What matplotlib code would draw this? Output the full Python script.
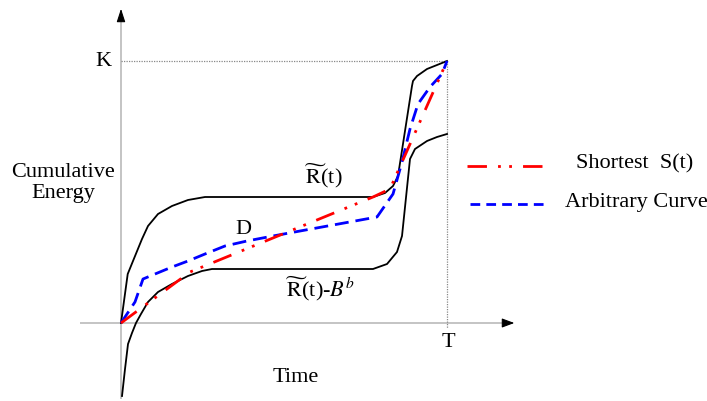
import matplotlib
matplotlib.use("Agg")
import matplotlib.pyplot as plt
from matplotlib.lines import Line2D

plt.rcParams['font.family'] = ['Liberation Serif', 'DejaVu Serif']
plt.rcParams['mathtext.fontset'] = 'stix'

# Time as a fraction of T, energy as a fraction of K
upper_t = [0.0, 0.0206, 0.0368, 0.0644, 0.0828, 0.1135, 0.1564, 0.2055, 0.2577, 0.773, 0.8098, 0.8344,
           0.8497, 0.8926, 0.8957, 0.908, 0.9387, 0.9693, 1.0]
upper_e = [0.0, 0.187, 0.2366, 0.3206, 0.3702, 0.416, 0.4466, 0.4695, 0.4809, 0.4809, 0.4962, 0.5229,
           0.5611, 0.9046, 0.9237, 0.9427, 0.9695, 0.9847, 1.0]

lower_t = [0.0031, 0.0123, 0.0215, 0.0337, 0.046, 0.0613, 0.0828, 0.1135, 0.1564, 0.2055, 0.2485, 0.2791,
           0.773, 0.816, 0.8466, 0.862, 0.8865, 0.9018, 0.9387, 0.9693, 1.0]
lower_e = [-0.2786, -0.1756, -0.0802, -0.0382, 0.0, 0.0344, 0.0802, 0.1183, 0.1489, 0.1794, 0.1985, 0.2061,
           0.2061, 0.2252, 0.271, 0.3321, 0.626, 0.6641, 0.6947, 0.7099, 0.7214]

arb_t = [0.0, 0.0429, 0.0675, 0.1043, 0.1564, 0.2055, 0.2577, 0.319, 0.3865, 0.4663, 0.5491, 0.6503,
         0.7853, 0.8344, 0.862, 0.8865, 0.911, 0.9479, 0.9847, 1.0]
arb_e = [0.0, 0.0802, 0.1679, 0.187, 0.2137, 0.2366, 0.2634, 0.2939, 0.313, 0.3321, 0.3511, 0.374,
         0.4046, 0.4924, 0.6145, 0.7405, 0.8359, 0.9008, 0.9504, 1.0]

short_t = [0.0, 0.2117, 0.773, 0.8252, 1.0]
short_e = [0.0, 0.1947, 0.4809, 0.5115, 1.0]

legend_labels = ["Shortest  S(t)", "Arbitrary Curve"]

W, H = 707, 402
fig = plt.figure(figsize=(W / 100, H / 100), dpi=100)
ax = fig.add_axes([0, 0, 1, 1])
x0, xT = 121, 447
y0, yK = 324, 62
ax.set_xlim((0 - x0) / (xT - x0), (W - x0) / (xT - x0))
ax.set_ylim((y0 - H) / (y0 - yK), (y0 - 0) / (y0 - yK))
ax.axis('off')

axis_col = '#b4b4b4'
# axes lines
ax.plot([-0.125, 1.19], [0, 0], color=axis_col, lw=1.1, solid_capstyle='butt')
ax.plot([0, 0], [-0.29, 1.17], color=axis_col, lw=1.1, solid_capstyle='butt')
# arrow heads
ax.annotate('', xy=(1.215, 0), xytext=(1.17, 0),
            arrowprops=dict(arrowstyle='-|>,head_length=0.75,head_width=0.28', color='black', lw=0.8))
ax.annotate('', xy=(0, 1.21), xytext=(0, 1.16),
            arrowprops=dict(arrowstyle='-|>,head_length=0.8,head_width=0.26', color='black', lw=0.8))

# reference dotted lines
ax.plot([0, 1], [1, 1], color='#888888', lw=0.9, ls=(0, (1, 1)))
ax.plot([1, 1], [1, -0.02], color='#888888', lw=0.9, ls=(0, (1, 1)))

# curves
ax.plot(upper_t, upper_e, color='black', lw=1.3)
ax.plot(lower_t, lower_e, color='black', lw=1.3)
ax.plot(arb_t, arb_e, color='#0000ff', lw=2.0, ls=(0, (5, 2.5)))
ax.plot(short_t, short_e, color='#ff0000', lw=2.0, ls=(0, (7, 4, 1, 3, 1, 4)))

fs = 16
ax.text(-0.055, 1.0, 'K', fontsize=fs, ha='center', va='center')
ax.text(1.003, -0.072, 'T', fontsize=fs, ha='center', va='center')
ax.text(-0.178, 0.538, 'Cumulative\nEnergy', fontsize=fs, ha='center', va='center', linespacing=1.2)
ax.text(0.537, -0.206, 'Time', fontsize=fs, ha='center', va='center')
ax.text(0.374, 0.359, 'D', fontsize=fs, ha='center', va='center')

# R~(t) labels
ax.text(0.62, 0.565, r'$\widetilde{\,\mathrm{R}\,}\!$(t)', fontsize=fs, ha='center', va='center')
ax.text(0.61, 0.135, r'$\widetilde{\,\mathrm{R}\,}\!$(t)-$B^b$', fontsize=fs, ha='center', va='center')

# legend
fig.add_artist(Line2D([467 / W, 548 / W], [1 - 167 / H, 1 - 167 / H], color='#ff0000', lw=2.0,
                      ls=(0, (7, 4, 1, 3, 1, 4))))
fig.add_artist(Line2D([470 / W, 545 / W], [1 - 205 / H, 1 - 205 / H], color='#0000ff', lw=2.0,
                      ls=(0, (3.5, 2.2))))
fig.text(635 / W, 1 - 164 / H, legend_labels[0], fontsize=fs, ha='center', va='center')
fig.text(636 / W, 1 - 203 / H, legend_labels[1], fontsize=fs, ha='center', va='center')

fig.savefig('out.png', dpi=100)
